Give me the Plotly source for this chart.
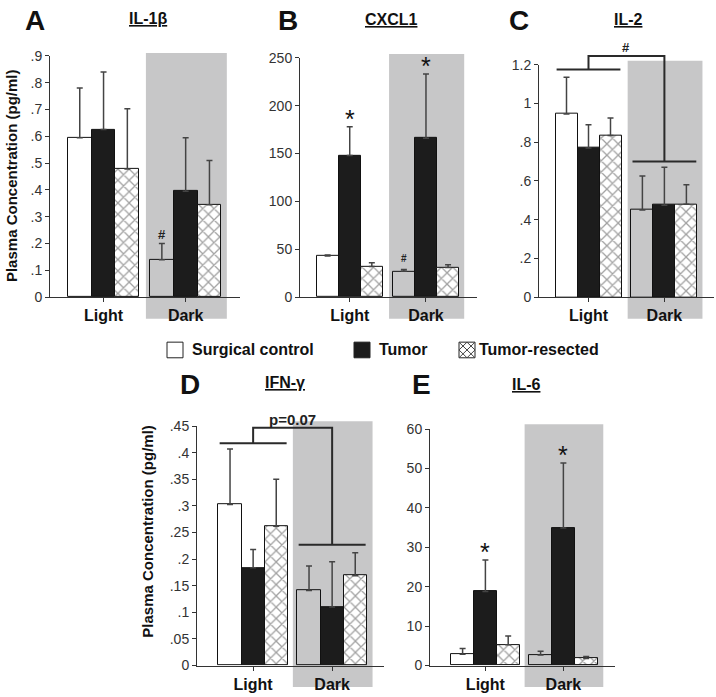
import plotly.graph_objects as go

W, H = 716, 697
FONT = "Liberation Sans, Arial, sans-serif"

groups = ["Light", "Dark"]
series_names = ["Surgical control", "Tumor", "Tumor-resected"]

# plasma concentration (mean, sem) per group: Light, Dark
il1b_surgical = [0.595, 0.14]
il1b_surgical_sem = [0.185, 0.06]
il1b_tumor = [0.625, 0.395]
il1b_tumor_sem = [0.215, 0.20]
il1b_resected = [0.478, 0.345]
il1b_resected_sem = [0.225, 0.165]

cxcl1_surgical = [43, 27]
cxcl1_surgical_sem = [1, 2]
cxcl1_tumor = [148, 166]
cxcl1_tumor_sem = [30, 67]
cxcl1_resected = [32, 31]
cxcl1_resected_sem = [4, 3]

il2_surgical = [0.945, 0.45]
il2_surgical_sem = [0.19, 0.175]
il2_tumor = [0.77, 0.475]
il2_tumor_sem = [0.12, 0.195]
il2_resected = [0.835, 0.48]
il2_resected_sem = [0.09, 0.10]

ifng_surgical = [0.303, 0.141]
ifng_surgical_sem = [0.104, 0.046]
ifng_tumor = [0.184, 0.11]
ifng_tumor_sem = [0.034, 0.085]
ifng_resected = [0.262, 0.169]
ifng_resected_sem = [0.088, 0.043]

il6_surgical = [2.9, 2.7]
il6_surgical_sem = [1.4, 0.9]
il6_tumor = [18.8, 34.9]
il6_tumor_sem = [8.0, 16.5]
il6_resected = [5.3, 1.8]
il6_resected_sem = [2.2, 0.5]

# y tick labels
ticks_il1b = [0, 0.1, 0.2, 0.3, 0.4, 0.5, 0.6, 0.7, 0.8, 0.9]
labels_il1b = ["0", ".1", ".2", ".3", ".4", ".5", ".6", ".7", ".8", ".9"]
ticks_cxcl1 = [0, 50, 100, 150, 200, 250]
labels_cxcl1 = ["0", "50", "100", "150", "200", "250"]
ticks_il2 = [0, 0.2, 0.4, 0.6, 0.8, 1.0, 1.2]
labels_il2 = ["0", ".2", ".4", ".6", ".8", "1", "1.2"]
ticks_ifng = [0, 0.05, 0.1, 0.15, 0.2, 0.25, 0.3, 0.35, 0.4, 0.45]
labels_ifng = ["0", ".05", ".1", ".15", ".2", ".25", ".3", ".35", ".4", ".45"]
ticks_il6 = [0, 10, 20, 30, 40, 50, 60]
labels_il6 = ["0", "10", "20", "30", "40", "50", "60"]

# significance marks: (panel, series index, group index, symbol)
sig_marks = [
    ("A", 0, 1, "#"),
    ("B", 1, 0, "*"),
    ("B", 1, 1, "*"),
    ("B", 0, 1, "#"),
    ("E", 1, 0, "*"),
    ("E", 1, 1, "*"),
]
# light-vs-dark brackets: (panel, light line, top, dark line, label)
brackets = [
    ("C", 1.175, 1.245, 0.70, "#"),
    ("D", 0.418, 0.447, 0.227, "p=0.07"),
]

panels = [
    dict(key="A", title="IL-1β", ymax=0.9, tv=ticks_il1b, tt=labels_il1b,
         data=[(il1b_surgical, il1b_surgical_sem), (il1b_tumor, il1b_tumor_sem),
               (il1b_resected, il1b_resected_sem)],
         x0=50, unit=23.8, xmax=8.0, ytop=49, ybot=296, row=0,
         letter=(35, 13), tpos=(148, 11), ytitle=(11, 172)),
    dict(key="B", title="CXCL1", ymax=250, tv=ticks_cxcl1, tt=labels_cxcl1,
         data=[(cxcl1_surgical, cxcl1_surgical_sem), (cxcl1_tumor, cxcl1_tumor_sem),
               (cxcl1_resected, cxcl1_resected_sem)],
         x0=300, unit=22.1, xmax=8.0, ytop=51, ybot=296, row=0,
         letter=(288, 13), tpos=(391, 12), ytitle=None),
    dict(key="C", title="IL-2", ymax=1.2, tv=ticks_il2, tt=labels_il2,
         data=[(il2_surgical, il2_surgical_sem), (il2_tumor, il2_tumor_sem),
               (il2_resected, il2_resected_sem)],
         x0=539, unit=22.0, xmax=7.95, ytop=58, ybot=296, row=0,
         letter=(519, 13), tpos=(628, 12), ytitle=None),
    dict(key="D", title="IFN-γ", ymax=0.45, tv=ticks_ifng, tt=labels_ifng,
         data=[(ifng_surgical, ifng_surgical_sem), (ifng_tumor, ifng_tumor_sem),
               (ifng_resected, ifng_resected_sem)],
         x0=197, unit=23.1, xmax=8.1, ytop=428, ybot=673, row=1,
         letter=(190, 385), tpos=(285, 383), ytitle=(148, 536)),
    dict(key="E", title="IL-6", ymax=60, tv=ticks_il6, tt=labels_il6,
         data=[(il6_surgical, il6_surgical_sem), (il6_tumor, il6_tumor_sem),
               (il6_resected, il6_resected_sem)],
         x0=430, unit=22.8, xmax=8.1, ytop=431, ybot=673, row=1,
         letter=(421, 385), tpos=(526, 385), ytitle=None),
]
# group start (bar units) and shaded band, per row
rows = [
    dict(starts=(0.75, 4.2), shade=(4.03, 7.43), shade_bot=318,
         shade_top={"A": 46, "B": 47, "C": 54}),
    dict(starts=(0.93, 4.35), shade=(4.15, 7.6), shade_bot=695,
         shade_top={"D": 423, "E": 426}),
]

SHADE = "#c7c7c8"
fills = [["white", "rgba(0,0,0,0)"], ["#1c1c1c", "#1c1c1c"], ["white", "white"]]


def px_x(p, v):
    return (p["x0"] + v * p["unit"]) / W


def px_y(p, v):
    return 1 - (p["ybot"] - v / p["ymax"] * (p["ybot"] - p["ytop"])) / H


def label(text, x, y, size, color="#111", **kw):
    d = dict(text=text, x=x, y=y, xref="paper", yref="paper", showarrow=False,
             xanchor="center", yanchor="middle",
             font=dict(family=FONT, size=size, color=color))
    d.update(kw)
    return d


fig = go.Figure()
shapes = []
annots = []
pmap = {}

for n, p in enumerate(panels, start=1):
    pmap[p["key"]] = p
    r = rows[p["row"]]
    xa = "x" if n == 1 else "x%d" % n
    ya = "y" if n == 1 else "y%d" % n
    centers = [s + 1.5 for s in r["starts"]]
    p["centers"] = centers
    p["starts"] = r["starts"]
    for si, (vals, sem) in enumerate(p["data"]):
        xs = [s + si + 0.5 for s in r["starts"]]
        marker = dict(color=fills[si], line=dict(color="#111", width=1))
        if si == 2:
            marker["pattern"] = dict(shape="x", size=8, solidity=0.3,
                                     fgcolor="#111", bgcolor="white", fillmode="overlay")
        fig.add_trace(go.Bar(
            x=xs, y=vals, width=1.0, marker=marker, name=series_names[si],
            showlegend=False, xaxis=xa, yaxis=ya,
            error_y=dict(type="data", symmetric=False, array=sem, arrayminus=[0, 0],
                         color="#444", thickness=1.5, width=3),
        ))
    ax = dict(domain=[p["x0"] / W, (p["x0"] + p["xmax"] * p["unit"]) / W],
              range=[0, p["xmax"]], anchor=ya, showline=True, linecolor="#333",
              linewidth=1, ticks="outside", ticklen=4, tickcolor="#333",
              tickvals=centers, ticktext=["<b>%s</b>" % g for g in groups],
              tickfont=dict(family=FONT, size=16, color="#111"),
              showgrid=False, zeroline=False, fixedrange=True)
    ay = dict(domain=[1 - p["ybot"] / H, 1 - p["ytop"] / H], range=[0, p["ymax"]],
              anchor=xa, showline=True, linecolor="#333", linewidth=1,
              ticks="outside", ticklen=4, tickcolor="#333",
              tickvals=p["tv"], ticktext=p["tt"],
              tickfont=dict(family=FONT, size=14, color="#333"),
              showgrid=False, zeroline=False, fixedrange=True)
    fig.update_layout(**{"xaxis" if n == 1 else "xaxis%d" % n: ax,
                         "yaxis" if n == 1 else "yaxis%d" % n: ay})

    # shaded dark band
    shapes.append(dict(type="rect", xref="paper", yref="paper",
                       x0=px_x(p, r["shade"][0]), x1=px_x(p, r["shade"][1]),
                       y0=1 - r["shade_bot"] / H, y1=1 - r["shade_top"][p["key"]] / H,
                       fillcolor=SHADE, line=dict(width=0), layer="below"))
    # letters and titles
    annots.append(label("<b>%s</b>" % p["key"], p["letter"][0] / W,
                        1 - p["letter"][1] / H, 28))
    annots.append(label("<b><u>%s</u></b>" % p["title"], p["tpos"][0] / W,
                        1 - p["tpos"][1] / H, 16))
    if p["ytitle"]:
        annots.append(label("<b>Plasma Concentration (pg/ml)</b>", p["ytitle"][0] / W,
                            1 - p["ytitle"][1] / H, 15, textangle=-90))

for key, si, gi, sym in sig_marks:
    p = pmap[key]
    vals, sem = p["data"][si]
    top = vals[gi] + sem[gi]
    x = p["starts"][gi] + si + 0.5
    if sym == "*":
        a = label(sym, px_x(p, x), px_y(p, top), 25, yshift=8)
    else:
        small = key == "B"
        a = label("<b>#</b>", px_x(p, x), px_y(p, top), 10 if small else 13,
                  color="#222", yshift=11 if small else 9)
    annots.append(a)

for key, ylo, ytop, ydark, txt in brackets:
    p = pmap[key]
    ls, ds = p["starts"]
    lc, dc = p["centers"]
    path = "M%f,%f H%f M%f,%f V%f H%f V%f M%f,%f H%f" % (
        px_x(p, ls + 0.05), px_y(p, ylo), px_x(p, ls + 2.95),
        px_x(p, lc), px_y(p, ylo), px_y(p, ytop), px_x(p, dc), px_y(p, ydark),
        px_x(p, ds + 0.05), px_y(p, ydark), px_x(p, ds + 2.95))
    shapes.append(dict(type="path", xref="paper", yref="paper", path=path,
                       line=dict(color="#2a2a2a", width=2)))
    annots.append(label("<b>%s</b>" % txt, px_x(p, (lc + dc) / 2), px_y(p, ytop),
                        13 if txt == "#" else 15, color="#222", yshift=8))

# legend drawn by hand
LY = 350
legend_items = [(167, 190, "white"), (354, 377, "#1c1c1c"), (459, 477, "white")]
for i, (bx, tx, col) in enumerate(legend_items):
    shapes.append(dict(type="rect", xref="paper", yref="paper",
                       x0=bx / W, x1=(bx + 16) / W, y0=1 - (LY + 8) / H, y1=1 - (LY - 8) / H,
                       fillcolor=col, line=dict(color="#222", width=1)))
    annots.append(label("<b>%s</b>" % series_names[i], tx / W, 1 - LY / H, 16,
                        xanchor="left"))
bx, by = 459, LY - 8
segs = [((0, 0), (16, 16)), ((8, 0), (16, 8)), ((0, 8), (8, 16)),
        ((0, 16), (16, 0)), ((0, 8), (8, 0)), ((8, 16), (16, 8))]
hp = ""
for (u0, v0), (u1, v1) in segs:
    hp += "M%f,%f L%f,%f " % ((bx + u0) / W, 1 - (by + v0) / H, (bx + u1) / W, 1 - (by + v1) / H)
shapes.append(dict(type="path", xref="paper", yref="paper", path=hp,
                   line=dict(color="#444", width=1)))

fig.update_layout(width=W, height=H, margin=dict(l=0, r=0, t=0, b=0),
                  paper_bgcolor="white", plot_bgcolor="rgba(0,0,0,0)",
                  barmode="overlay", bargap=0, shapes=shapes, annotations=annots,
                  font=dict(family=FONT), showlegend=False)
# page body has a default 8px margin; drop it so the figure fills the window
fig.write_html("out.html", config={"displayModeBar": False},
               post_script="document.body.style.margin='0px';")
